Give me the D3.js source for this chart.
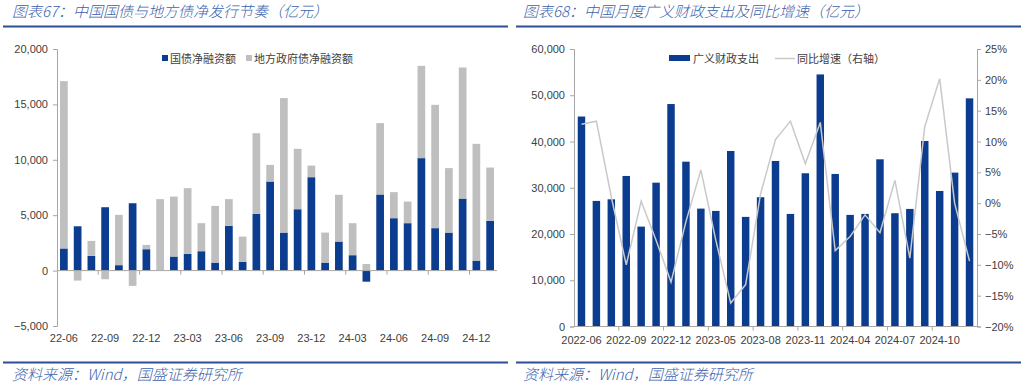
<!DOCTYPE html>
<html><head><meta charset="utf-8">
<script src="https://cdn.jsdelivr.net/npm/d3@7/dist/d3.min.js"></script>
<style>
html,body{margin:0;padding:0;background:#fff;}
svg{display:block;}
</style></head>
<body>
<svg id="c" width="1024" height="384"></svg>
<script>
// ---------- Data: left chart ----------
const leftCategories = ["22-06","22-07","22-08","22-09","22-10","22-11","22-12","23-01","23-02","23-03","23-04","23-05","23-06","23-07","23-08","23-09","23-10","23-11","23-12","24-01","24-02","24-03","24-04","24-05","24-06","24-07","24-08","24-09","24-10","24-11","24-12","25-01"];
const treasuryNet = [2000,4000,1330,5720,490,6080,1930,0,1270,1510,1750,720,4040,790,5120,8040,3430,5540,8430,720,2620,1390,-1000,6870,4730,4280,10150,3830,3430,6500,900,4490];
const localNet = [15100,-900,1350,-780,4540,-1380,390,6450,5410,5930,2530,5120,2410,2280,7280,1500,12140,5450,1050,2710,4220,2890,600,6440,2350,1950,8330,11130,5820,11830,10540,4810];
const leftSeriesNames = ["国债净融资额","地方政府债净融资额"];
const leftYTicks = [-5000,0,5000,10000,15000,20000];
const leftXTickLabels = ["22-06","22-09","22-12","23-03","23-06","23-09","23-12","24-03","24-06","24-09","24-12"];

// ---------- Data: right chart ----------
const rightCategories = ["2022-06","2022-07","2022-08","2022-09","2022-10","2022-11","2022-12","2023-03","2023-04","2023-05","2023-06","2023-07","2023-08","2023-09","2023-10","2023-11","2023-12","2024-03","2024-04","2024-05","2024-06","2024-07","2024-08","2024-09","2024-10","2024-11","2024-12"];
const fiscalSpending = [45400,27150,27500,32550,21600,31100,48100,35640,25490,24990,37950,23700,27950,35790,24340,33130,54500,32980,24130,24340,36150,24490,25420,40110,29300,33270,49330];
const yoyGrowth = [0.128,0.133,0.010,-0.100,0.003,-0.060,-0.128,-0.030,0.054,-0.060,-0.162,-0.132,0.015,0.103,0.133,0.064,0.131,-0.077,-0.054,-0.019,-0.048,0.037,-0.089,0.124,0.202,0.000,-0.094];
const rightSeriesNames = ["广义财政支出","同比增速（右轴）"];
const rightYTicks = [0,10000,20000,30000,40000,50000,60000];
const rightY2Ticks = [-0.20,-0.15,-0.10,-0.05,0,0.05,0.10,0.15,0.20,0.25];
const rightXTickLabels = ["2022-06","2022-09","2022-12","2023-05","2023-08","2023-11","2024-04","2024-07","2024-10"];

const titles = ["图表67：中国国债与地方债净发行节奏（亿元）","图表68：中国月度广义财政支出及同比增速（亿元）"];
const sourceText = "资料来源：Wind，国盛证券研究所";

// ---------- Styles ----------
const BLUE = "#0b3c8f";
const GREY = "#bfbfbf";
const LINEGREY = "#c9c9c9";
const AXIS = "#a6a6a6";
const TEXT = "#404040";
const TITLEBLUE = "#3d5fae";
const RULE = "#2b4e94";
const numFont = "'Liberation Sans', Arial, sans-serif";
const cjkFont = "'Noto Sans CJK SC', sans-serif";

const svg = d3.select("#c");
const fmt = d3.format(",");

// ---------- Headers / footers ----------
function header(x0, x1, title, textX) {
  svg.append("text").attr("x", textX).attr("y", 17)
    .attr("font-family", cjkFont).attr("font-size", 15).attr("font-style", "italic").attr("font-weight", 300)
    .attr("fill", TITLEBLUE).text(title);
  svg.append("line").attr("x1", x0).attr("x2", x1).attr("y1", 26.5).attr("y2", 26.5)
    .attr("stroke", RULE).attr("stroke-width", 2);
  svg.append("line").attr("x1", x0).attr("x2", x1).attr("y1", 362.5).attr("y2", 362.5)
    .attr("stroke", RULE).attr("stroke-width", 2);
  svg.append("text").attr("x", textX).attr("y", 380)
    .attr("font-family", cjkFont).attr("font-size", 15).attr("font-style", "italic").attr("font-weight", 300)
    .attr("fill", TITLEBLUE).text(sourceText);
}
header(3, 508, titles[0], 12);
header(516, 1021, titles[1], 523);

// ---------- Left chart ----------
(function(){
  const x = d3.scaleBand().domain(leftCategories).range([57, 497]).paddingInner(0.44).paddingOuter(0.22);
  const y = d3.scaleLinear().domain([-5000, 20000]).range([326, 49]);
  const g = svg.append("g");

  const rows = leftCategories.map((c, i) => ({cat: c, t: treasuryNet[i], l: localNet[i]}));
  const stack = d3.stack().keys(["t","l"]).offset(d3.stackOffsetDiverging)(rows);
  const colors = {t: BLUE, l: GREY};
  stack.forEach(layer => {
    g.append("g").selectAll("rect").data(layer).join("rect")
      .attr("x", d => x(d.data.cat))
      .attr("width", x.bandwidth())
      .attr("y", d => y(Math.max(d[0], d[1])))
      .attr("height", d => Math.abs(y(d[0]) - y(d[1])))
      .attr("fill", colors[layer.key]);
  });

  const ya = g.append("g").attr("transform", "translate(57,0)")
    .call(d3.axisLeft(y).tickValues(leftYTicks).tickFormat(fmt).tickSize(4).tickPadding(5));
  ya.select(".domain").attr("stroke", AXIS);
  ya.selectAll(".tick line").attr("stroke", AXIS);
  ya.selectAll("text").attr("font-family", numFont).attr("font-size", 11).attr("fill", TEXT);

  g.append("line").attr("x1", 57).attr("x2", 497).attr("y1", y(0)).attr("y2", y(0)).attr("stroke", AXIS);
  const step = x.step();
  const bounds = d3.range(2, leftCategories.length - 1, 3).map(i => x(leftCategories[i]) + x.bandwidth()/2 + step/2);
  g.selectAll(".xt").data(bounds).join("line")
    .attr("x1", d => d).attr("x2", d => d).attr("y1", y(0)).attr("y2", y(0) + 4).attr("stroke", AXIS);
  g.selectAll(".xl").data(leftXTickLabels).join("text")
    .attr("x", d => x(d) + x.bandwidth()/2).attr("y", 342)
    .attr("text-anchor", "middle").attr("font-family", numFont).attr("font-size", 11).attr("fill", TEXT)
    .text(d => d);

  const lg = g.append("g");
  lg.append("rect").attr("x", 162).attr("y", 55).attr("width", 6).attr("height", 6).attr("fill", BLUE);
  lg.append("text").attr("x", 170).attr("y", 62.5).attr("font-family", cjkFont).attr("font-size", 11).attr("fill", TEXT).text(leftSeriesNames[0]);
  lg.append("rect").attr("x", 246).attr("y", 55).attr("width", 6).attr("height", 6).attr("fill", GREY);
  lg.append("text").attr("x", 254).attr("y", 62.5).attr("font-family", cjkFont).attr("font-size", 11).attr("fill", TEXT).text(leftSeriesNames[1]);
})();

// ---------- Right chart ----------
(function(){
  const x = d3.scaleBand().domain(rightCategories).range([574, 977]).paddingInner(0.5).paddingOuter(0.25);
  const y = d3.scaleLinear().domain([0, 60000]).range([326.5, 49]);
  const y2 = d3.scaleLinear().domain([-0.2, 0.25]).range([326.5, 49]);
  const g = svg.append("g");

  g.selectAll(".bar").data(rightCategories).join("rect")
    .attr("x", d => x(d)).attr("width", x.bandwidth())
    .attr("y", (d, i) => y(fiscalSpending[i]))
    .attr("height", (d, i) => y(0) - y(fiscalSpending[i]))
    .attr("fill", BLUE);

  const line = d3.line().x((d, i) => x(rightCategories[i]) + x.bandwidth()/2).y(d => y2(d));
  g.append("path").datum(yoyGrowth).attr("d", line).attr("fill", "none")
    .attr("stroke", LINEGREY).attr("stroke-width", 1.5);

  const ya = g.append("g").attr("transform", "translate(574,0)")
    .call(d3.axisLeft(y).tickValues(rightYTicks).tickFormat(fmt).tickSize(4).tickPadding(5));
  ya.select(".domain").attr("stroke", AXIS);
  ya.selectAll(".tick line").attr("stroke", AXIS);
  ya.selectAll("text").attr("font-family", numFont).attr("font-size", 11).attr("fill", TEXT);

  const ya2 = g.append("g").attr("transform", "translate(977,0)")
    .call(d3.axisRight(y2).tickValues(rightY2Ticks).tickFormat(d3.format(".0%")).tickSize(4).tickPadding(4));
  ya2.select(".domain").attr("stroke", AXIS);
  ya2.selectAll(".tick line").attr("stroke", AXIS);
  ya2.selectAll("text").attr("font-family", numFont).attr("font-size", 11).attr("fill", TEXT);

  g.append("line").attr("x1", 574).attr("x2", 977).attr("y1", y(0)).attr("y2", y(0)).attr("stroke", AXIS);
  const step = x.step();
  const bounds = d3.range(2, rightCategories.length - 1, 3).map(i => x(rightCategories[i]) + x.bandwidth()/2 + step/2);
  g.selectAll(".xt").data(bounds).join("line")
    .attr("x1", d => d).attr("x2", d => d).attr("y1", y(0)).attr("y2", y(0) + 4).attr("stroke", AXIS);
  g.selectAll(".xl").data(rightXTickLabels).join("text")
    .attr("x", d => x(d) + x.bandwidth()/2).attr("y", 344)
    .attr("text-anchor", "middle").attr("font-family", numFont).attr("font-size", 11).attr("fill", TEXT)
    .text(d => d);

  const lg = g.append("g");
  lg.append("rect").attr("x", 669).attr("y", 55).attr("width", 21).attr("height", 6).attr("fill", BLUE);
  lg.append("text").attr("x", 693).attr("y", 62.5).attr("font-family", cjkFont).attr("font-size", 11).attr("fill", TEXT).text(rightSeriesNames[0]);
  lg.append("line").attr("x1", 775).attr("x2", 795).attr("y1", 58.5).attr("y2", 58.5).attr("stroke", LINEGREY).attr("stroke-width", 1.5);
  lg.append("text").attr("x", 797).attr("y", 62.5).attr("font-family", cjkFont).attr("font-size", 11).attr("fill", TEXT).text(rightSeriesNames[1]);
})();
</script>
</body></html>
